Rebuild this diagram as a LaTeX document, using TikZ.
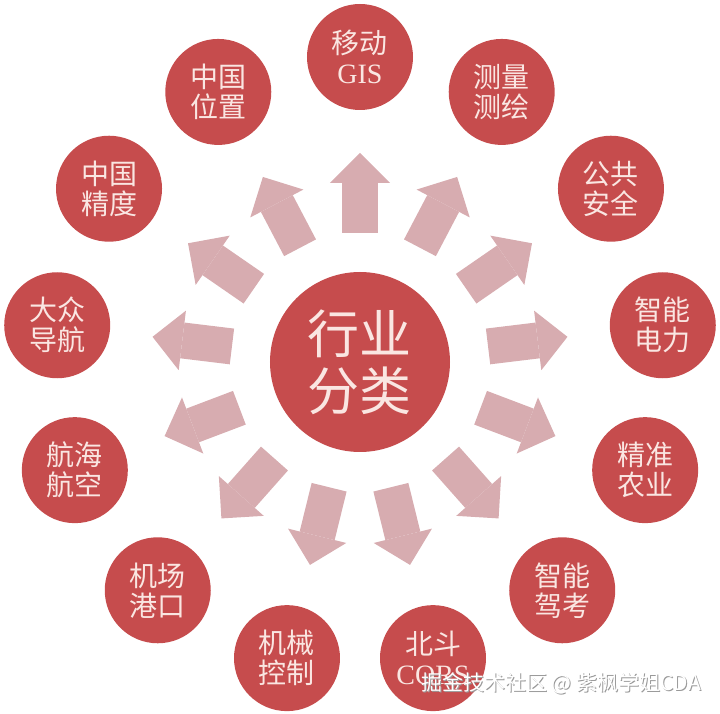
\documentclass[tikz,border=0pt]{standalone}
\usepackage{fontspec}
\setmainfont{Liberation Serif}
\newfontfamily\cjk{Noto Sans CJK SC}
\usetikzlibrary{arrows.meta}

\definecolor{hongse}{RGB}{198,76,77}
\definecolor{fenhong}{RGB}{215,172,176}
\definecolor{qianse}{RGB}{250,230,226}

\tikzset{
  xiaoyuan/.style={circle, fill=hongse, minimum size=106pt, inner sep=0pt, outer sep=0pt,
    text=qianse, align=center, font=\cjk\fontsize{28}{30}\selectfont},
  dayuan/.style={circle, fill=hongse, minimum size=180pt, inner sep=0pt, outer sep=0pt,
    text=qianse, align=center, font=\cjk\fontsize{52}{57}\selectfont},
  jiantou/.style={draw=fenhong, line width=36pt,
    -{Triangle[width=60pt, length=30pt, line width=0pt]},
    shorten <=39pt, shorten >=43pt},
  shuiyin/.style={font=\cjk\fontsize{21}{21}\selectfont, inner sep=0pt}
}

\begin{document}
\begin{tikzpicture}[x=1pt, y=1pt]
  \useasboundingbox (-360,-352) rectangle (360,362);
  % 中心
  \node[dayuan] (hangye) at (0,0) {行业\\分类};
  % 外圈
  \node[xiaoyuan] (yidong)  at (90:305)     {移动\\{\rmfamily GIS}};
  \node[xiaoyuan] (celiang) at (62.31:305)  {测量\\测绘};
  \node[xiaoyuan] (anquan)  at (34.62:305)  {公共\\安全};
  \node[xiaoyuan] (dianli)  at (6.92:305)   {智能\\电力};
  \node[xiaoyuan] (nongye)  at (-20.77:305) {精准\\农业};
  \node[xiaoyuan] (jiakao)  at (-48.46:305) {智能\\驾考};
  \node[xiaoyuan] (beidou)  at (-76.15:305) {北斗\\{\rmfamily CORS}};
  \node[xiaoyuan] (jixie)   at (-103.85:305) {机械\\控制};
  \node[xiaoyuan] (jichang) at (-131.54:305) {机场\\港口};
  \node[xiaoyuan] (hanghai) at (-159.23:305) {航海\\航空};
  \node[xiaoyuan] (daohang) at (173.08:305) {大众\\导航};
  \node[xiaoyuan] (jingdu)  at (145.38:305) {中国\\精度};
  \node[xiaoyuan] (weizhi)  at (117.69:305) {中国\\位置};
  % 箭头
  \draw[jiantou] (hangye) -- (yidong);
  \draw[jiantou] (hangye) -- (celiang);
  \draw[jiantou] (hangye) -- (anquan);
  \draw[jiantou] (hangye) -- (dianli);
  \draw[jiantou] (hangye) -- (nongye);
  \draw[jiantou] (hangye) -- (jiakao);
  \draw[jiantou] (hangye) -- (beidou);
  \draw[jiantou] (hangye) -- (jixie);
  \draw[jiantou] (hangye) -- (jichang);
  \draw[jiantou] (hangye) -- (hanghai);
  \draw[jiantou] (hangye) -- (daohang);
  \draw[jiantou] (hangye) -- (jingdu);
  \draw[jiantou] (hangye) -- (weizhi);
  % 水印
  \node[shuiyin, text=gray!80] (shuiyinying) at (202,-322) {掘金技术社区 @ 紫枫学姐CDA};
  \node[shuiyin, text=white] (shuiyinzi) at (201,-321) {掘金技术社区 @ 紫枫学姐CDA};
\end{tikzpicture}
\end{document}
